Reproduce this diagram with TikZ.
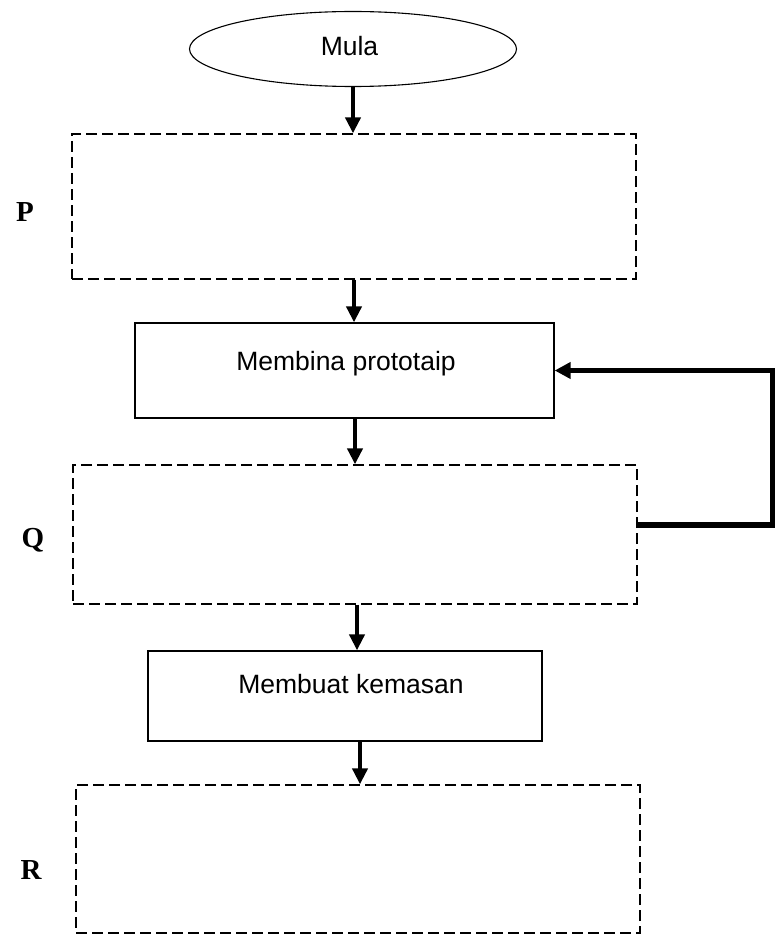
\documentclass[tikz,border=0pt]{standalone}
\usepackage{fontspec}
\setmainfont{Liberation Sans}
\newfontfamily\labelfont{Liberation Serif}
\usetikzlibrary{arrows.meta,shapes.geometric}
\begin{document}
\begin{tikzpicture}[x=1pt,y=-1pt,
  boxdash/.style={draw,dashed,dash pattern=on 11pt off 5pt,line width=1.3pt,minimum width=564pt,inner sep=0pt},
  boxsolid/.style={draw,line width=1.3pt,inner sep=0pt},
  txt/.style={inner sep=0pt,font=\fontsize{26.5}{31}\selectfont},
  lbl/.style={inner sep=0pt,font=\labelfont\bfseries\fontsize{29}{34}\selectfont},
  arr/.style={line width=4.3pt,-{Triangle[length=16pt,width=15pt]}},
  fb/.style={line width=5.2pt,-{Triangle[length=16pt,width=16pt]}}]
\useasboundingbox (0,0) rectangle (775,936);
\node[draw,ellipse,line width=1.1pt,minimum width=327pt,minimum height=75pt,inner sep=0pt] (mula) at (353,49) {};
\node[txt] (mulaT) at (349.5,46) {Mula};
\node[boxdash,minimum height=145pt] (P) at (354,206.5) {};
\node[boxsolid,minimum width=419pt,minimum height=95pt] (membina) at (344.5,370.5) {};
\node[txt] (membinaT) at (346,363.5) {Membina prototaip};
\node[boxdash,minimum height=139pt] (Q) at (355,534.5) {};
\node[boxsolid,minimum width=394pt,minimum height=90pt] (membuat) at (345,696) {};
\node[txt] (membuatT) at (351,684) {Membuat kemasan};
\node[boxdash,minimum height=148pt] (R) at (358,859) {};
\node[lbl] (lP) at (25,212) {P};
\node[lbl] (lQ) at (33,540) {Q};
\node[lbl] (lR) at (31,870) {R};
\draw[arr] (mula.south) -- (mula.south |- P.north);
\draw[arr] (P.south) -- (P.south |- membina.north);
\draw[arr] (Q.north |- membina.south) -- (Q.north);
\draw[arr] ([xshift=2pt]Q.south) -- ([xshift=2pt]Q.south |- membuat.north);
\draw[arr] ([xshift=2pt]R.north |- membuat.south) -- ([xshift=2pt]R.north);
\draw[fb] ([yshift=9.5pt]Q.east) -- ++(135,0) |- (membina.east);
\end{tikzpicture}
\end{document}
